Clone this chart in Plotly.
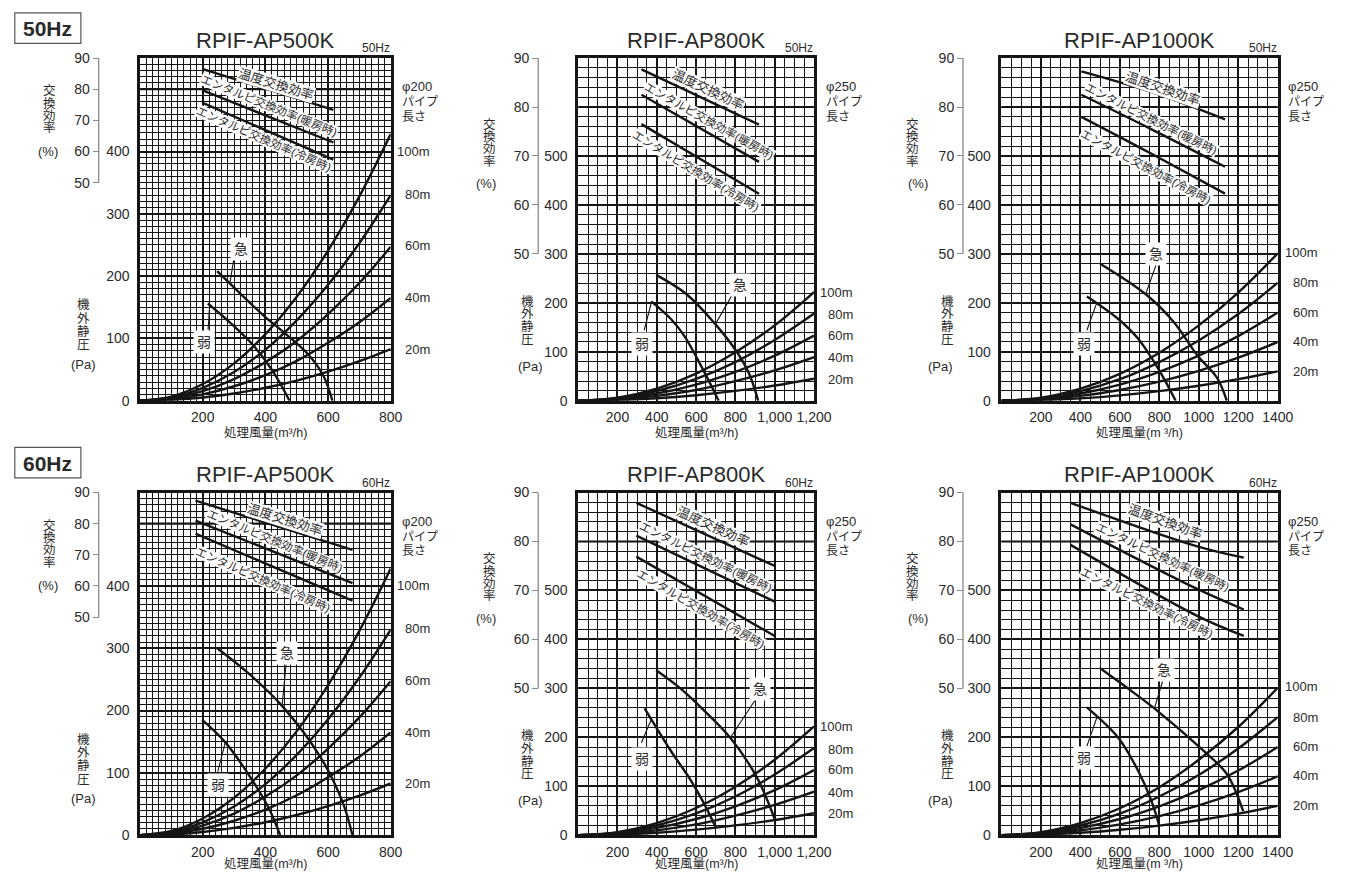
import plotly.graph_objects as go

# ----------------------------------------------------------------- DATA
MODELS = ["RPIF-AP500K", "RPIF-AP800K", "RPIF-AP1000K"]
FREQS = ["50Hz", "60Hz"]
PIPE_DIAMETERS = ["φ200", "φ250", "φ250"]
PIPE_LENGTHS = ["20m", "40m", "60m", "80m", "100m"]
FAN_NOTCHES = ["急", "弱"]
EFF_NAMES = ["温度交換効率", "エンタルピ交換効率(暖房時)", "エンタルピ交換効率(冷房時)"]

X_TICKS_500 = [200, 400, 600, 800]
X_TICKTEXT_500 = ["200", "400", "600", "800"]
X_TICKS_800 = [200, 400, 600, 800, 1000, 1200]
X_TICKTEXT_800 = ["200", "400", "600", "800", "1,000", "1,200"]
X_TICKS_1000 = [200, 400, 600, 800, 1000, 1200, 1400]
X_TICKTEXT_1000 = ["200", "400", "600", "800", "1000", "1200", "1400"]
Y_TICKS_500 = [0, 100, 200, 300, 400]
Y_TICKS_800 = [0, 100, 200, 300, 400, 500]
Y_TOP_GRID_500 = 500          # unlabelled major grid line (= 80 %)
Y_TOP_GRID_800 = 600
EFF_TICKS = [50, 60, 70, 80, 90]

# pipe resistance curves (Pa) vs airflow (m3/h)
Q_PIPE_500 = [0, 100, 200, 300, 400, 500, 600, 700, 800]
PIPE_500_20M = [0, 1.3, 5.2, 11.7, 20.8, 32.4, 46.7, 63.5, 83]
PIPE_500_40M = [0, 2.6, 10.3, 23.2, 41, 64, 93, 126, 165]
PIPE_500_60M = [0, 3.9, 15.4, 34.7, 62, 96, 139, 189, 247]
PIPE_500_80M = [0, 5.2, 20.6, 46, 82, 129, 186, 253, 330]
PIPE_500_100M = [0, 6.7, 26.8, 60, 107, 167, 241, 328, 428]
PIPE_LABEL_P_500 = [83, 165, 249, 331, 400]

Q_PIPE_800 = [0, 200, 400, 600, 800, 1000, 1200]
PIPE_800_20M = [0, 1.3, 5, 11.3, 20, 31, 45]
PIPE_800_40M = [0, 2.5, 9.9, 22, 40, 62, 89]
PIPE_800_60M = [0, 3.7, 14.8, 33, 59, 92, 133]
PIPE_800_80M = [0, 5, 19.8, 44.5, 79, 124, 178]
PIPE_800_100M = [0, 6.2, 24.7, 55.5, 99, 154, 222]
PIPE_LABEL_P_800 = [44, 88, 134, 176, 221]

Q_PIPE_1000 = [0, 200, 400, 600, 800, 1000, 1200, 1400]
PIPE_1000_20M = [0, 1.2, 4.9, 11, 19.6, 30.6, 44, 60]
PIPE_1000_40M = [0, 2.4, 9.8, 22, 39, 61, 88, 120]
PIPE_1000_60M = [0, 3.7, 14.7, 33, 59, 92, 132, 180]
PIPE_1000_80M = [0, 4.9, 19.7, 44, 79, 123, 177, 241]
PIPE_1000_100M = [0, 6.1, 24.6, 55, 98, 154, 221, 301]
PIPE_LABEL_P_1000 = [60, 122, 181, 241, 303]

# fan curves (急 = high, 弱 = low)
FAN_50_500_HIGH_Q = [246, 320, 398, 470, 539, 585, 614]
FAN_50_500_HIGH_P = [208, 172, 135, 105, 73, 40, 0]
FAN_50_500_LOW_Q = [216, 288, 361, 424, 477]
FAN_50_500_LOW_P = [156, 125, 89, 47, 0]
FAN_50_800_HIGH_Q = [397, 550, 690, 807, 870, 916]
FAN_50_800_HIGH_P = [257, 218, 160, 100, 55, 0]
FAN_50_800_LOW_Q = [372, 472, 539, 640, 715]
FAN_50_800_LOW_P = [203, 167, 133, 60, 0]
FAN_50_1000_HIGH_Q = [500, 733, 875, 992, 1092, 1142]
FAN_50_1000_HIGH_P = [280, 217, 160, 93, 47, 0]
FAN_50_1000_LOW_Q = [433, 592, 692, 792, 883]
FAN_50_1000_LOW_P = [213, 167, 127, 67, 0]
FAN_60_500_HIGH_Q = [246, 350, 456, 576, 645, 678]
FAN_60_500_HIGH_P = [300, 258, 206, 125, 55, 0]
FAN_60_500_LOW_Q = [198, 272, 361, 414, 447]
FAN_60_500_LOW_P = [185, 149, 86, 40, 0]
FAN_60_800_HIGH_Q = [397, 520, 640, 774, 908, 1000]
FAN_60_800_HIGH_P = [337, 300, 255, 199, 119, 33]
FAN_60_800_LOW_Q = [338, 472, 573, 640, 700]
FAN_60_800_LOW_P = [259, 172, 112, 65, 16]
FAN_60_1000_HIGH_Q = [497, 640, 775, 1025, 1142, 1225]
FAN_60_1000_HIGH_P = [342, 300, 259, 172, 125, 49]
FAN_60_1000_LOW_Q = [433, 592, 692, 758, 800]
FAN_60_1000_LOW_P = [261, 199, 132, 72, 19]

# fan label positions (Q, Pa) and leader lines [Q0, Q1], [P0, P1]
FAN_HIGH_LABEL = [[(321, 244), (824, 236), (783, 300)], [(468, 292), (925, 299), (825, 337)]]
FAN_HIGH_LEADER_Q = [[[299, 287], [789, 698], [783, 733]], [[466, 453], [899, 774], [817, 775]]]
FAN_HIGH_LEADER_P = [[[227, 190], [220, 156], [277, 220]], [[274, 207], [275, 199], [315, 259]]]
FAN_LOW_LABEL = [[(205, 94), (327, 116), (420, 116)], [(248, 81), (325, 155), (420, 157)]]
FAN_LOW_LEADER_Q = [[[217, 222], [336, 372], [433, 483]], [[248, 272], [322, 372], [433, 483]]]
FAN_LOW_LEADER_P = [[[114, 152], [144, 200], [144, 200]], [[102, 149], [189, 237], [182, 240]]]

# exchange efficiency lines (%)
EFF_50_500_Q = [198, 617]
EFF_50_500_TEMP = [86.5, 73.4]
EFF_50_500_HEAT = [79.7, 62.9]
EFF_50_500_COOL = [75.7, 57.4]
EFF_50_800_Q = [322, 920]
EFF_50_800_TEMP = [87.7, 76.4]
EFF_50_800_HEAT = [82.5, 68.8]
EFF_50_800_COOL = [76.5, 62.3]
EFF_50_1000_Q = [405, 758, 1133]
EFF_50_1000_TEMP = [87.3, 83.1, 77.5]
EFF_50_1000_HEAT = [82.5, 75.5, 67.8]
EFF_50_1000_COOL = [78.0, 70.5, 62.3]
EFF_60_500_Q = [177, 678]
EFF_60_500_TEMP = [87.4, 71.6]
EFF_60_500_HEAT = [81.0, 60.9]
EFF_60_500_COOL = [76.8, 55.3]
EFF_60_800_Q = [296, 1000]
EFF_60_800_TEMP = [87.9, 75.0]
EFF_60_800_HEAT = [81.2, 67.7]
EFF_60_800_COOL = [76.9, 60.7]
EFF_60_1000_Q = [350, 992, 1228]
EFF_60_1000_TEMP = [87.9, 79.0, 76.7]
EFF_60_1000_HEAT = [83.5, 70.3, 66.1]
EFF_60_1000_COOL = [79.3, 64.8, 60.7]

# efficiency label anchor (Q, %, angle) for temp / heat / cool
EFF_LABELS = [
    [[(435, 81.5, 17), (413, 74.5, 22), (394, 64.1, 23.5)],
     [(660, 83.5, 25), (665, 77.1, 29), (598, 67.0, 31)],
     [(817, 83.8, 19), (758, 77.5, 26.5), (733, 67.8, 28)]],
    [[(461, 81.4, 17.5), (431, 74.5, 22.5), (393, 61.9, 23.5)],
     [(685, 83.0, 24.5), (648, 76.9, 26), (623, 66.3, 30)],
     [(828, 84.0, 20), (817, 76.9, 25), (737, 67.5, 26)]],
]

# ------------------------------------------------------------ TABLES
MODEL_TABLE = [
    dict(qmax=800, pmax=550, eff_lo=-20, xt=X_TICKS_500, xtt=X_TICKTEXT_500,
         yt=Y_TICKS_500, ytop=Y_TOP_GRID_500, dx=20, dy=10, qpipe=Q_PIPE_500,
         pipes=[PIPE_500_20M, PIPE_500_40M, PIPE_500_60M, PIPE_500_80M, PIPE_500_100M],
         pipe_lbl=PIPE_LABEL_P_500, xtitle="処理風量(m³/h)"),
    dict(qmax=1200, pmax=700, eff_lo=20, xt=X_TICKS_800, xtt=X_TICKTEXT_800,
         yt=Y_TICKS_800, ytop=Y_TOP_GRID_800, dx=50, dy=20, qpipe=Q_PIPE_800,
         pipes=[PIPE_800_20M, PIPE_800_40M, PIPE_800_60M, PIPE_800_80M, PIPE_800_100M],
         pipe_lbl=PIPE_LABEL_P_800, xtitle="処理風量(m³/h)"),
    dict(qmax=1400, pmax=700, eff_lo=20, xt=X_TICKS_1000, xtt=X_TICKTEXT_1000,
         yt=Y_TICKS_800, ytop=Y_TOP_GRID_800, dx=50, dy=20, qpipe=Q_PIPE_1000,
         pipes=[PIPE_1000_20M, PIPE_1000_40M, PIPE_1000_60M, PIPE_1000_80M, PIPE_1000_100M],
         pipe_lbl=PIPE_LABEL_P_1000, xtitle="処理風量(m ³/h)"),
]
FAN_HIGH = [[(FAN_50_500_HIGH_Q, FAN_50_500_HIGH_P), (FAN_50_800_HIGH_Q, FAN_50_800_HIGH_P), (FAN_50_1000_HIGH_Q, FAN_50_1000_HIGH_P)],
            [(FAN_60_500_HIGH_Q, FAN_60_500_HIGH_P), (FAN_60_800_HIGH_Q, FAN_60_800_HIGH_P), (FAN_60_1000_HIGH_Q, FAN_60_1000_HIGH_P)]]
FAN_LOW = [[(FAN_50_500_LOW_Q, FAN_50_500_LOW_P), (FAN_50_800_LOW_Q, FAN_50_800_LOW_P), (FAN_50_1000_LOW_Q, FAN_50_1000_LOW_P)],
           [(FAN_60_500_LOW_Q, FAN_60_500_LOW_P), (FAN_60_800_LOW_Q, FAN_60_800_LOW_P), (FAN_60_1000_LOW_Q, FAN_60_1000_LOW_P)]]
EFF = [[(EFF_50_500_Q, [EFF_50_500_TEMP, EFF_50_500_HEAT, EFF_50_500_COOL]),
        (EFF_50_800_Q, [EFF_50_800_TEMP, EFF_50_800_HEAT, EFF_50_800_COOL]),
        (EFF_50_1000_Q, [EFF_50_1000_TEMP, EFF_50_1000_HEAT, EFF_50_1000_COOL])],
       [(EFF_60_500_Q, [EFF_60_500_TEMP, EFF_60_500_HEAT, EFF_60_500_COOL]),
        (EFF_60_800_Q, [EFF_60_800_TEMP, EFF_60_800_HEAT, EFF_60_800_COOL]),
        (EFF_60_1000_Q, [EFF_60_1000_TEMP, EFF_60_1000_HEAT, EFF_60_1000_COOL])]]

# ------------------------------------------------------------ LAYOUT (page pixels)
W, H = 1349, 880
FONT = "Liberation Sans, Arial, Noto Sans CJK JP, sans-serif"
INK = "#151515"
TXT = "#2a2a2a"
COL_PX = [(142, 396), (586, 825), (1015, 1295)]
ROW_TOP = [51, 493.5]
ROW_BOT = [400, 842.5]
SHIFT = [0, 442.5]
XTITLE_Y = [432.5, 872]
EFF_AXIS_PX = [100, 545.5, 976]
PHI_X = [405, 835, 1303]
PIPE_LBL_SHIFT = [41, 41, 42]
EFF_TITLE_X = [50, 496, 925]
PCT_X = [49, 493, 930]
EFF_TITLE_Y = [[85, 97.5, 110, 122.5, 146], [119, 131.5, 144, 156.5, 179], [119, 131.5, 144, 156.5, 179]]
PRS_TITLE_X = [85, 535, 960]
PA_X = [85, 538, 953]
PRS_TITLE_Y = [[303, 316.5, 330, 343.5, 363], [299, 312, 325, 338, 365], [299, 312, 325, 338, 365]]


def pxx(v):
    return v / W


def pxy(v):
    return 1 - v / H


def axname(kind, i):
    return kind if i == 1 else f"{kind}{i}"


fig = go.Figure()
annotations = []
shapes = []
layout_axes = {}


def add_line(xs, ys, xr, yr, width, shape="spline"):
    fig.add_trace(go.Scatter(x=xs, y=ys, xaxis=xr, yaxis=yr, mode="lines",
                             line=dict(color=INK, width=width, shape=shape),
                             hoverinfo="skip", showlegend=False))


def paper_text(xp, yp, text, size, xanchor="center", bold=False):
    annotations.append(dict(x=pxx(xp), y=pxy(yp), xref="paper", yref="paper",
                            text=f"<b>{text}</b>" if bold else text, showarrow=False,
                            xanchor=xanchor, yanchor="middle",
                            font=dict(size=size, color=TXT)))


for r, freq in enumerate(FREQS):
    for c, model in enumerate(MODELS):
        i = r * 3 + c + 1
        m = MODEL_TABLE[c]
        L, R = COL_PX[c]
        T, B = ROW_TOP[r], ROW_BOT[r]
        s = SHIFT[r]
        xr, yr, er = axname("x", i), axname("y", i), axname("y", i + 6)

        layout_axes["xaxis" + ("" if i == 1 else str(i))] = dict(
            domain=[pxx(L), pxx(R)], range=[0, m["qmax"]], anchor=yr,
            tickmode="array", tickvals=m["xt"], ticktext=m["xtt"],
            ticks="outside", ticklen=2, tickcolor="rgba(0,0,0,0)",
            tickfont=dict(size=14, color=TXT, family=FONT),
            showgrid=True, gridcolor=INK, gridwidth=2.2,
            minor=dict(tickmode="linear", tick0=0, dtick=m["dx"], showgrid=True,
                       gridcolor=INK, gridwidth=1, ticks=""),
            showline=True, linecolor=INK, linewidth=2.5, mirror=True,
            zeroline=False, fixedrange=True)
        layout_axes["yaxis" + ("" if i == 1 else str(i))] = dict(
            domain=[pxy(B), pxy(T)], range=[0, m["pmax"]], anchor=xr,
            tickmode="array", tickvals=m["yt"],
            ticks="outside", ticklen=5, tickcolor="rgba(0,0,0,0)",
            tickfont=dict(size=14, color=TXT, family=FONT),
            showgrid=True, gridcolor=INK, gridwidth=2.2,
            minor=dict(tickmode="linear", tick0=0, dtick=m["dy"], showgrid=True,
                       gridcolor=INK, gridwidth=1, ticks=""),
            showline=True, linecolor=INK, linewidth=2.5, mirror=True,
            zeroline=False, fixedrange=True)
        layout_axes[f"yaxis{i + 6}"] = dict(
            overlaying=yr, anchor="free", position=pxx(EFF_AXIS_PX[c]), side="left",
            range=[m["eff_lo"], 90], tickmode="array", tickvals=EFF_TICKS,
            ticks="outside", ticklen=6, tickwidth=1.2, tickcolor="#8a8a8a",
            tickfont=dict(size=14, color=TXT, family=FONT),
            showgrid=False, zeroline=False, showline=False, fixedrange=True)
        # unlabelled major grid line at the top (80 % level)
        shapes.append(dict(type="line", xref=f"{xr} domain", yref=yr, x0=0, x1=1,
                           y0=m["ytop"], y1=m["ytop"], layer="below",
                           line=dict(color=INK, width=2.2)))
        shapes.append(dict(type="line", xref="paper", yref=er,
                           x0=pxx(EFF_AXIS_PX[c]), x1=pxx(EFF_AXIS_PX[c]), y0=50, y1=90,
                           line=dict(color="#8a8a8a", width=1.3)))

        # pipe curves
        for k, pv in enumerate(m["pipes"]):
            add_line(m["qpipe"], pv, xr, yr, 2.4)
            annotations.append(dict(x=m["qmax"], y=m["pipe_lbl"][k], xref=xr, yref=yr,
                                    text=PIPE_LENGTHS[k], showarrow=False, xanchor="right",
                                    yanchor="middle",
                                    xshift=PIPE_LBL_SHIFT[c], font=dict(size=13, color=TXT)))
        # fan curves
        for (fq, fp), lab, lq, lp, name in [
            (FAN_HIGH[r][c], FAN_HIGH_LABEL[r][c], FAN_HIGH_LEADER_Q[r][c], FAN_HIGH_LEADER_P[r][c], FAN_NOTCHES[0]),
            (FAN_LOW[r][c], FAN_LOW_LABEL[r][c], FAN_LOW_LEADER_Q[r][c], FAN_LOW_LEADER_P[r][c], FAN_NOTCHES[1]),
        ]:
            add_line(fq, fp, xr, yr, 2.4)
            add_line(lq, lp, xr, yr, 1.1, shape="linear")
            annotations.append(dict(x=lab[0], y=lab[1], xref=xr, yref=yr, text=name,
                                    showarrow=False, bgcolor="white", borderpad=3,
                                    xanchor="center", yanchor="middle",
                                    font=dict(size=14, color=TXT)))
        # efficiency lines
        eq, evals = EFF[r][c]
        for k, ev in enumerate(evals):
            add_line(eq, ev, xr, er, 2.4)
            lx, ly, ang = EFF_LABELS[r][c][k]
            annotations.append(dict(x=lx, y=ly, xref=xr, yref=er, text=EFF_NAMES[k],
                                    showarrow=False, textangle=ang, bgcolor="white",
                                    borderpad=0, xanchor="center", yanchor="middle",
                                    font=dict(size=13 if k == 0 else 11.5, color=TXT)))

        # texts
        paper_text((L + R) / 2, 33 + s, model, 22)
        paper_text(R + 1, 41 + s, freq, 12, xanchor="right")
        paper_text(PHI_X[c], 80 + s, PIPE_DIAMETERS[c], 13, xanchor="left")
        paper_text(PHI_X[c], 96 + s, "パイプ", 12, xanchor="left")
        paper_text(PHI_X[c], 111 + s, "長さ", 12, xanchor="left")
        paper_text((L + R) / 2, XTITLE_Y[r], m["xtitle"], 12.5)
        for k, ch in enumerate("交換効率"):
            paper_text(EFF_TITLE_X[c], EFF_TITLE_Y[c][k] + s, ch, 12.5)
        paper_text(PCT_X[c], EFF_TITLE_Y[c][4] + s, "(%)", 13)
        for k, ch in enumerate("機外静圧"):
            paper_text(PRS_TITLE_X[c], PRS_TITLE_Y[c][k] + s, ch, 12.5)
        paper_text(PA_X[c], PRS_TITLE_Y[c][4] + s, "(Pa)", 13)

    # frequency box
    s = SHIFT[r]
    shapes.append(dict(type="rect", xref="paper", yref="paper", x0=pxx(15), x1=pxx(82),
                       y0=pxy(36 + s), y1=pxy(5 + s),
                       line=dict(color="#555", width=1.2)))
    paper_text(48.5, 21 + s, freq, 21, bold=True)

fig.update_layout(
    width=W, height=H, autosize=False,
    margin=dict(l=0, r=0, t=0, b=0),
    paper_bgcolor="white", plot_bgcolor="white",
    font=dict(family=FONT, color=TXT),
    showlegend=False, hovermode=False,
    annotations=annotations, shapes=shapes,
    **layout_axes,
)

fig.write_html("out.html", post_script="document.body.style.margin='0';",
               config={"displayModeBar": False})
